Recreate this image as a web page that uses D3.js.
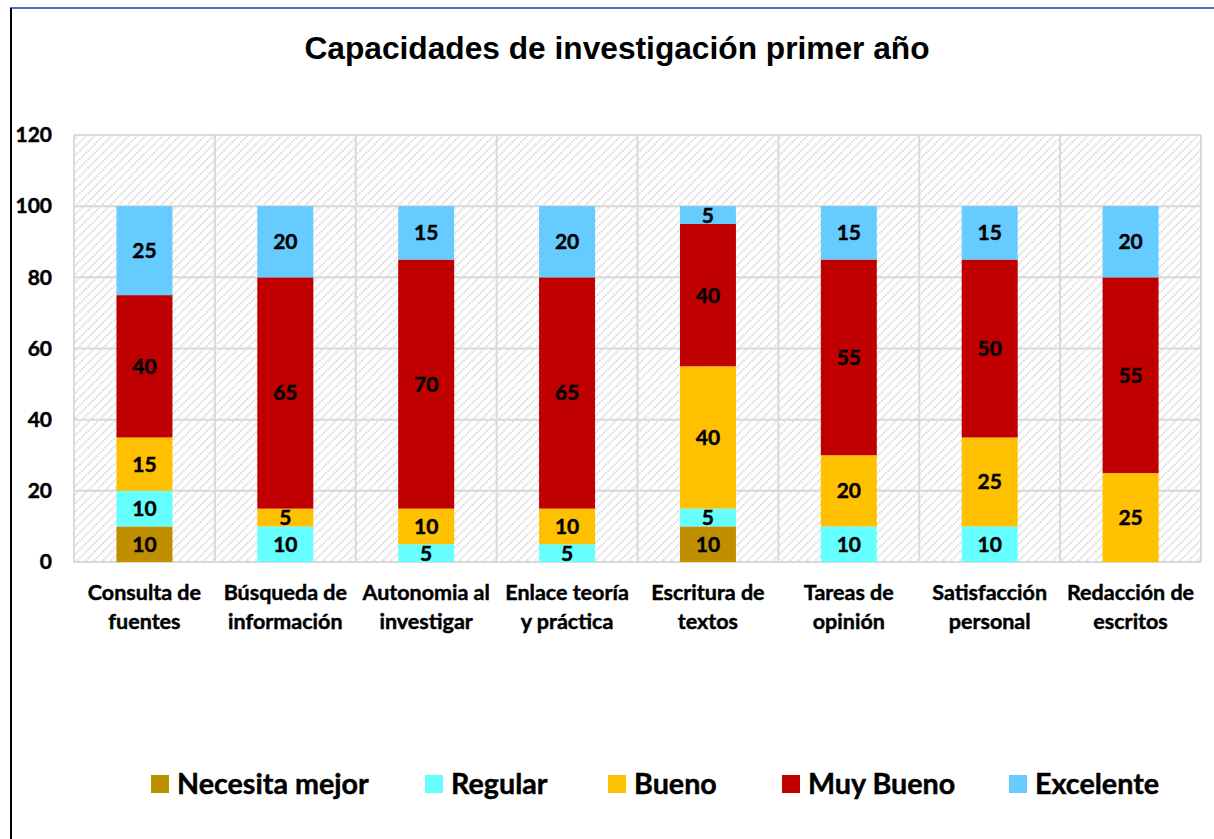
<!DOCTYPE html>
<html>
<head>
<meta charset="utf-8">
<script src="https://cdn.jsdelivr.net/npm/d3@7"></script>
<style>
  body { margin: 0; background: #fff; }
  svg { display: block; }
</style>
</head>
<body>
<svg id="chart" width="1214" height="839"></svg>
<script>
const categories = [
  ["Consulta de", "fuentes"],
  ["Búsqueda de", "información"],
  ["Autonomia al", "investigar"],
  ["Enlace teoría", "y práctica"],
  ["Escritura de", "textos"],
  ["Tareas de", "opinión"],
  ["Satisfacción", "personal"],
  ["Redacción de", "escritos"]
];
const seriesNames = ["Necesita mejor", "Regular", "Bueno", "Muy Bueno", "Excelente"];
const seriesColors = ["#bf8f00", "#66ffff", "#ffc000", "#c00000", "#66ccff"];
const necesita = [10, 0, 0, 0, 10, 0, 0, 0];
const regular = [10, 10, 5, 5, 5, 10, 10, 0];
const bueno = [15, 5, 10, 10, 40, 20, 25, 25];
const muyBueno = [40, 65, 70, 65, 40, 55, 50, 55];
const excelente = [25, 20, 15, 20, 5, 15, 15, 20];
const yTicks = [0, 20, 40, 60, 80, 100, 120];

const svg = d3.select("#chart");
const font = "Lato, 'Open Sans', sans-serif";

// frame lines
svg.append("line").attr("x1", 10).attr("x2", 1214).attr("y1", 8).attr("y2", 8)
  .attr("stroke", "#4472c4").attr("stroke-width", 2);
svg.append("line").attr("x1", 11).attr("x2", 11).attr("y1", 8).attr("y2", 839)
  .attr("stroke", "#000").attr("stroke-width", 2);

// title
svg.append("text").attr("x", 617).attr("y", 59).attr("text-anchor", "middle")
  .attr("font-family", "'Liberation Sans', Arial, sans-serif").attr("font-weight", "bold")
  .attr("font-size", 31.7).attr("fill", "#000").text("Capacidades de investigación primer año");

const plotL = 74, plotR = 1201, plotT = 135, plotB = 562;

const x = d3.scaleBand().domain(d3.range(categories.length)).range([plotL, plotR]);
const y = d3.scaleLinear().domain([0, 120]).range([plotB, plotT]);

// hatch pattern
const defs = svg.append("defs");
const pat = defs.append("pattern").attr("id", "hatch").attr("patternUnits", "userSpaceOnUse")
  .attr("width", 6).attr("height", 6).attr("patternTransform", "rotate(-45)");
pat.append("rect").attr("width", 6).attr("height", 6).attr("fill", "#fff");
pat.append("line").attr("x1", 0).attr("x2", 6).attr("y1", 1).attr("y2", 1)
  .attr("stroke", "#d4d4d4").attr("stroke-width", 1.6).attr("stroke-dasharray", "2,1");

svg.append("rect").attr("x", plotL).attr("y", plotT).attr("width", plotR - plotL).attr("height", plotB - plotT)
  .attr("fill", "url(#hatch)");

// grid
const grid = svg.append("g");
grid.selectAll("line.h").data(yTicks).enter().append("line")
  .attr("x1", plotL).attr("x2", plotR).attr("y1", d => y(d)).attr("y2", d => y(d))
  .attr("stroke", "#d9d9d9").attr("stroke-width", 2);
grid.selectAll("line.v").data(d3.range(categories.length + 1)).enter().append("line")
  .attr("x1", d => plotL + d * x.bandwidth()).attr("x2", d => plotL + d * x.bandwidth())
  .attr("y1", plotT).attr("y2", plotB)
  .attr("stroke", "#d9d9d9").attr("stroke-width", 2);

// bold-ish text helper (Calibri Bold is heavier than Lato Bold)
function heavy(sel, size) {
  return sel.attr("font-family", font).attr("font-weight", "bold").attr("font-size", size)
    .attr("fill", "#000").attr("stroke", "#000").attr("stroke-width", 0.45);
}

// y axis labels
const yAxis = svg.append("g").attr("transform", `translate(${plotL - 12},0)`)
  .call(d3.axisLeft(y).tickValues(yTicks).tickSize(0).tickPadding(10));
yAxis.select(".domain").remove();
heavy(yAxis.selectAll("text"), 21);

// stack
const rows = categories.map((c, i) => ({
  i, "Necesita mejor": necesita[i], "Regular": regular[i], "Bueno": bueno[i],
  "Muy Bueno": muyBueno[i], "Excelente": excelente[i]
}));
const stack = d3.stack().keys(seriesNames)(rows);
const barW = 56;

const layers = svg.selectAll("g.layer").data(stack).enter().append("g")
  .attr("class", "layer");
layers.selectAll("rect").data(d => d).enter().append("rect")
  .attr("fill", function() { return seriesColors[seriesNames.indexOf(d3.select(this.parentNode).datum().key)]; })
  .attr("x", d => x(d.data.i) + x.bandwidth() / 2 - barW / 2)
  .attr("width", barW)
  .attr("y", d => y(d[1]))
  .attr("height", d => y(d[0]) - y(d[1]));

heavy(layers.selectAll("text").data(d => d.filter(p => p[1] - p[0] > 0)).enter().append("text")
  .attr("x", d => x(d.data.i) + x.bandwidth() / 2)
  .attr("y", d => (y(d[0]) + y(d[1])) / 2 + 7.5)
  .attr("text-anchor", "middle")
  .text(d => d[1] - d[0]), 21);

// category labels
const cat = svg.append("g");
categories.forEach((lines, i) => {
  lines.forEach((t, j) => {
    heavy(cat.append("text").attr("x", x(i) + x.bandwidth() / 2).attr("y", 600 + j * 29)
      .attr("text-anchor", "middle").text(t), 21.5);
  });
});

// legend
const legendX = [151, 425, 608, 782, 1009];
const legend = svg.append("g");
seriesNames.forEach((n, i) => {
  legend.append("rect").attr("x", legendX[i]).attr("y", 775).attr("width", 18).attr("height", 18)
    .attr("fill", seriesColors[i]);
  heavy(legend.append("text").attr("x", legendX[i] + 26).attr("y", 794).text(n), 28.7);
});
</script>
</body>
</html>
